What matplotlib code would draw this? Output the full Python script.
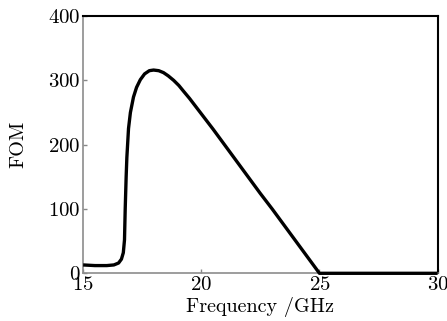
import matplotlib
matplotlib.use("Agg")
import matplotlib.pyplot as plt

freq = [15.0, 15.5, 16.0, 16.3, 16.5, 16.62, 16.70, 16.75, 16.78, 16.82, 16.85,
        16.92, 17.0, 17.13, 17.26, 17.42, 17.6, 17.8, 17.98, 18.2, 18.4, 18.6,
        18.83, 19.05, 19.25, 19.5, 19.75, 20.0, 20.5, 21.0, 21.5, 22.0, 22.5,
        23.0, 23.5, 24.0, 24.5, 25.0, 27.5, 30.0]
fom = [13, 12, 12, 13, 16, 22, 32, 52, 100, 150, 180,
       225, 250, 274, 289, 301, 310, 315, 316, 315, 312, 307,
       300, 292, 283, 272, 260, 248, 224, 199, 174, 149, 124,
       100, 75, 50, 25, 0, 0, 0]

xticks = [15, 20, 25, 30]
yticks = [0, 100, 200, 300, 400]

plt.rcParams['font.family'] = ['cmr10', 'DejaVu Serif']
plt.rcParams['axes.formatter.use_mathtext'] = True

fig = plt.figure(figsize=(4.47, 3.21), dpi=100)
ax = fig.add_axes([0.186, 0.1486, 0.793, 0.8015])
ax.plot(freq, fom, color='black', lw=2.4, solid_capstyle='butt', solid_joinstyle='round',
        clip_on=False, zorder=5)
ax.set_xlim(15, 30)
ax.set_ylim(0, 400)
ax.set_xticks(xticks)
ax.set_yticks(yticks)
ax.tick_params(direction='in', length=3, width=1, colors='#888888', labelcolor='black',
               labelsize=15, pad=2)
for s in ['left', 'bottom']:
    ax.spines[s].set_color('#8c8c8c')
    ax.spines[s].set_linewidth(1.2)
for s in ['top', 'right']:
    ax.spines[s].set_color('black')
    ax.spines[s].set_linewidth(1.5)
ax.set_xlabel('Frequency /GHz', fontsize=14.5, labelpad=2)
ax.set_ylabel('FOM', fontsize=14.5, labelpad=15)
fig.savefig('out.png', dpi=100)
